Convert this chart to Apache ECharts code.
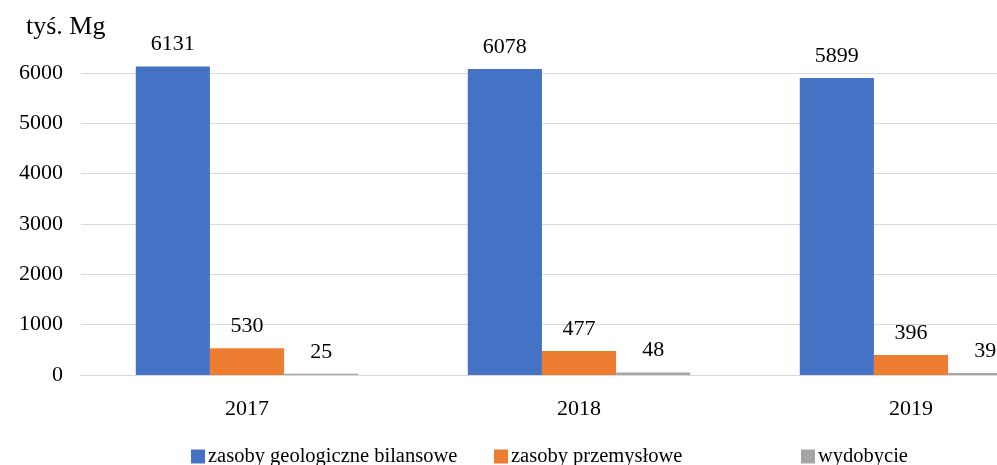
<!DOCTYPE html>
<html>
<head>
<meta charset="utf-8">
<script src="https://cdn.jsdelivr.net/npm/echarts@6/dist/echarts.min.js"></script>
<style>html,body{margin:0;padding:0;background:#fff}#c{width:997px;height:465px}</style>
</head>
<body>
<div id="c"></div>
<script>
const categories = ['2017', '2018', '2019'];
const seriesNames = ['zasoby geologiczne bilansowe', 'zasoby przemysłowe', 'wydobycie'];
const geologiczne = [6131, 6078, 5899];
const przemyslowe = [530, 477, 396];
const wydobycie = [25, 48, 39];
const yTicks = [0, 1000, 2000, 3000, 4000, 5000, 6000];
const unitLabel = 'tyś. Mg';

const colors = ['#4472C4', '#ED7D31', '#A5A5A5'];
const font = 'Liberation Serif, Times New Roman, serif';
const chart = echarts.init(document.getElementById('c'));

function mk(name, data, color) {
  return {
    name, type: 'bar', data, clip: false,
    barGap: '0%', barCategoryGap: '33%',
    itemStyle: { color },
    label: { show: true, position: 'top', distance: 11, fontFamily: font, fontSize: 22, color: '#000' }
  };
}
function legend(i, left) {
  return {
    data: [seriesNames[i]], left, top: 441, icon: 'rect', itemWidth: 14, itemHeight: 14, itemGap: 4,
    textStyle: { fontFamily: font, fontSize: 20.5, color: '#000', padding: [0, 0, 0, -2] }
  };
}
chart.setOption({
  animation: false,
  title: { text: unitLabel, left: 21, top: 9, textStyle: { fontFamily: font, fontSize: 26, fontWeight: 'normal', color: '#000' } },
  legend: [legend(0, 186), legend(1, 489), legend(2, 796)],
  grid: { left: 81, top: 73, width: 996, height: 302, outerBoundsMode: 'none', containLabel: false },
  xAxis: {
    type: 'category', data: categories,
    axisLine: { lineStyle: { color: '#D9D9D9', width: 1 } },
    axisTick: { show: false },
    axisLabel: { fontFamily: font, fontSize: 22, color: '#000', margin: 23 }
  },
  yAxis: {
    type: 'value', min: yTicks[0], max: yTicks[yTicks.length - 1], interval: 1000,
    axisLine: { show: false }, axisTick: { show: false },
    splitLine: { lineStyle: { color: '#D9D9D9', width: 1 } },
    axisLabel: { fontFamily: font, fontSize: 22, color: '#000', margin: 18, formatter: v => String(v) }
  },
  series: [mk(seriesNames[0], geologiczne, colors[0]), mk(seriesNames[1], przemyslowe, colors[1]), mk(seriesNames[2], wydobycie, colors[2])]
});
</script>
</body>
</html>
